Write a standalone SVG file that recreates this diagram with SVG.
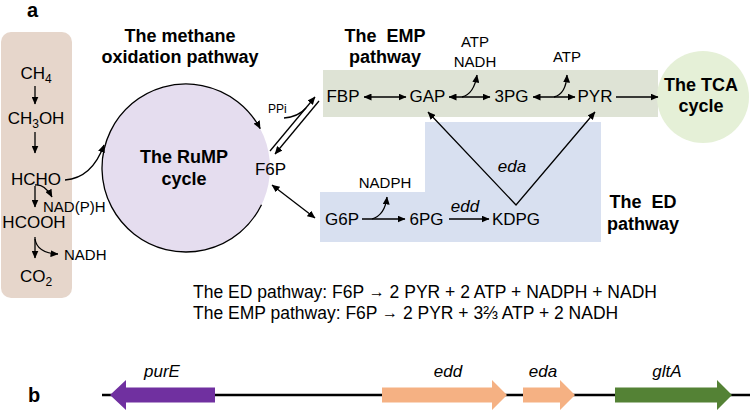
<svg xmlns="http://www.w3.org/2000/svg" width="750" height="413" viewBox="0 0 750 413">
<defs>
<style>
text{font-family:"Liberation Sans",Arial,sans-serif;fill:#000}
.m{font-size:17px;text-anchor:middle}
.s{font-size:15px}
.c{text-anchor:middle}
.b{font-size:18px;font-weight:bold;text-anchor:middle}
.i{font-style:italic;font-size:17px;text-anchor:middle}
.eq{font-size:17.5px}
.ln{fill:none;stroke:#000;stroke-width:1.3}
.a{marker-end:url(#ah)}
.d{marker-start:url(#ah);marker-end:url(#ah)}
.sub{font-size:12px}
</style>
<marker id="ah" viewBox="0 0 8 7" refX="7.5" refY="3.5" markerWidth="8" markerHeight="7" markerUnits="userSpaceOnUse" orient="auto-start-reverse"><path d="M0,0 L8,3.5 L0,7 z" fill="#000"/></marker>
</defs>
<rect width="750" height="413" fill="#fff"/>

<text x="27" y="17" style="font-size:20px;font-weight:bold">a</text>
<text x="28" y="402" style="font-size:20px;font-weight:bold">b</text>

<g id="methane-box">
<rect x="1" y="32" width="71" height="266" rx="10" fill="#e6d6cb"/>
</g>
<g id="rump-cycle">
<circle cx="186" cy="168" r="84" fill="#e5ddef"/>
<text class="b" x="184" y="163">The RuMP</text>
<text class="b" x="184" y="185">cycle</text>
</g>
<g id="emp-box"><rect x="323" y="70" width="335" height="47" fill="#dee3d5"/></g>
<g id="ed-box"><polygon points="425,122 601,122 601,242 320,242 320,192 425,192" fill="#d8e0f0"/></g>
<g id="tca-cycle">
<circle cx="703" cy="97" r="46" fill="#e5f0d7"/>
<text class="b" x="701" y="91">The TCA</text>
<text class="b" x="701" y="112">cycle</text>
</g>

<g id="titles">
<text class="b" x="180" y="42">The methane</text>
<text class="b" x="180" y="63">oxidation pathway</text>
<text class="b" x="385" y="42" xml:space="preserve">The  EMP</text>
<text class="b" x="385" y="63">pathway</text>
<text class="b" x="643" y="208" xml:space="preserve">The  ED</text>
<text class="b" x="643" y="230">pathway</text>
</g>

<g id="CH4"><text class="m" x="36" y="79">CH<tspan class="sub" dy="4">4</tspan></text></g>
<g id="CH3OH"><text class="m" x="36" y="124">CH<tspan class="sub" dy="4">3</tspan><tspan dy="-4">OH</tspan></text></g>
<g id="HCHO"><text class="m" x="36" y="185">HCHO</text></g>
<g id="NADPH1"><text class="s" x="43" y="212">NAD(P)H</text></g>
<g id="HCOOH"><text class="m" x="34" y="228">HCOOH</text></g>
<g id="NADH1"><text class="s" x="64" y="260">NADH</text></g>
<g id="CO2"><text class="m" x="36" y="282">CO<tspan class="sub" dy="4">2</tspan></text></g>

<g id="F6P"><text class="m" x="270.5" y="175">F6P</text></g>
<g id="PPi"><text x="268" y="113" style="font-size:12px">PPi</text></g>
<g id="FBP"><text class="m" x="343" y="102">FBP</text></g>
<g id="GAP"><text class="m" x="427.5" y="102">GAP</text></g>
<g id="3PG"><text class="m" x="511.5" y="102">3PG</text></g>
<g id="PYR"><text class="m" x="595" y="102">PYR</text></g>
<g id="ATP-NADH"><text class="s c" x="475" y="47">ATP</text><text class="s c" x="475" y="67">NADH</text></g>
<g id="ATP2"><text class="s c" x="567" y="62">ATP</text></g>
<g id="G6P"><text class="m" x="342" y="225">G6P</text></g>
<g id="NADPH2"><text class="s c" x="385" y="188">NADPH</text></g>
<g id="6PG"><text class="m" x="426.5" y="225">6PG</text></g>
<g id="KDPG"><text class="m" x="516" y="225">KDPG</text></g>
<g id="enzymes">
<text class="i" x="465" y="212">edd</text>
<text class="i" x="512" y="172">eda</text>
</g>

<g id="connectors" class="ln">
<path class="a" d="M35,86 L35,104"/>
<path class="a" d="M35,132 L35,153"/>
<path class="a" d="M35,186 L35,207"/>
<path class="a" d="M35,185 Q45,184 52,197"/>
<path class="a" d="M35,237 L35,258"/>
<path class="a" d="M35,239 Q37,253 58,254"/>
<path class="a" d="M65,180 Q92,178 104,145"/>
<path class="a" d="M261.5,204.8 A84,84 0 1 1 260.2,128.6"/>
<path class="a" d="M270,151 L315,97"/>
<path class="a" d="M319,101 L275,154"/>
<path d="M284,118 Q298,117 306,108"/>
<path class="d" d="M272,185 L315,218"/>
<path class="d" d="M364,97 L406,97"/>
<path class="d" d="M449,97 L490,97"/>
<path class="a" d="M462,97 Q474,94 477,75"/>
<path class="d" d="M533,97 L575,97"/>
<path class="a" d="M554,97 Q566,94 567,75"/>
<path class="a" d="M616,97 L658,97"/>
<path class="a" d="M362,219 L405,219"/>
<path class="a" d="M372,219 Q385,215 387,197"/>
<path class="a" d="M449,219 L489,219"/>
<path class="d" d="M428,112 L516,205 L595,112"/>
</g>

<g id="equations">
<text class="eq" x="193" y="298">The ED pathway: F6P <tspan style="font-size:16px" dy="-1">→</tspan><tspan dy="1"> 2 PYR + 2 ATP + NADPH + NADH</tspan></text>
<text class="eq" x="193" y="319">The EMP pathway: F6P <tspan style="font-size:16px" dy="-1">→</tspan><tspan dy="1"> 2 PYR + 3⅔ ATP + 2 NADH</tspan></text>
</g>

<g id="genome"><line x1="102" y1="395" x2="750" y2="395" stroke="#000" stroke-width="2.5"/></g>
<g id="purE">
<polygon points="110,395 126,380 126,387.5 215,387.5 215,402.5 126,402.5 126,410" fill="#7030a0"/>
<text class="i" x="162" y="377">purE</text>
</g>
<g id="edd">
<polygon points="382,387.5 492,387.5 492,380 507,395 492,410 492,402.5 382,402.5" fill="#f5b183"/>
<text class="i" x="448" y="377">edd</text>
</g>
<g id="eda">
<polygon points="523,387.5 560,387.5 560,380 575,395 560,410 560,402.5 523,402.5" fill="#f5b183"/>
<text class="i" x="543" y="377">eda</text>
</g>
<g id="gltA">
<polygon points="615,387.5 717,387.5 717,380 732,395 717,410 717,402.5 615,402.5" fill="#548235"/>
<text class="i" x="667" y="377">gltA</text>
</g>
</svg>
